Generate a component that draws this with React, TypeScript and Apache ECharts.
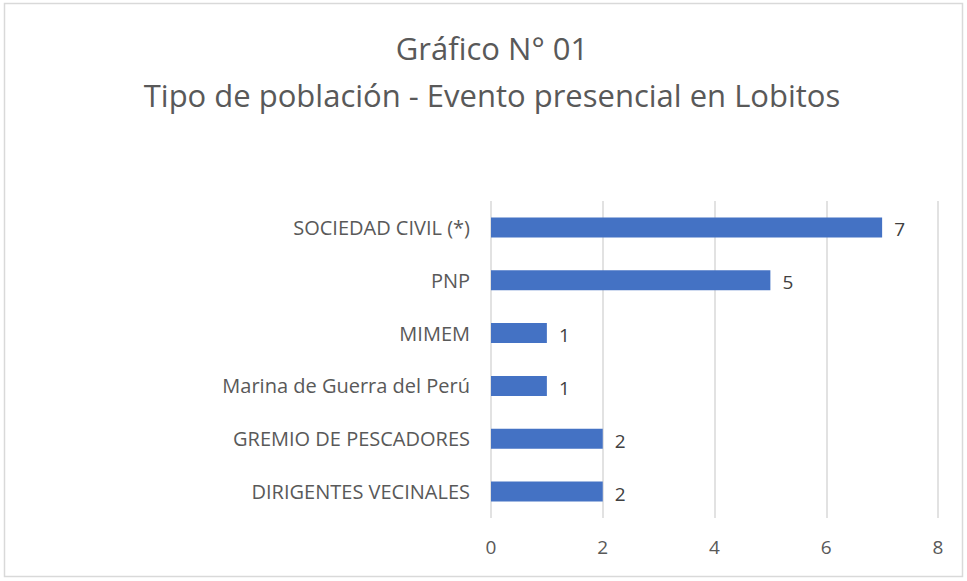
import React, { useEffect, useRef } from "react";
import * as echarts from "echarts";

const categories = [
  "SOCIEDAD CIVIL (*)",
  "PNP",
  "MIMEM",
  "Marina de Guerra del Perú",
  "GREMIO DE PESCADORES",
  "DIRIGENTES VECINALES",
];
const values = [7, 5, 1, 1, 2, 2];
const titleLines = ["Gráfico N° 01", "Tipo de población - Evento presencial en Lobitos"];

const FONT = "'Open Sans', 'Noto Sans', sans-serif";
const TXT = "#595959";

export default function App() {
  const ref = useRef<HTMLDivElement>(null);
  useEffect(() => {
    if (!ref.current) return;
    const chart = echarts.init(ref.current, null, { renderer: "svg" });
    chart.setOption({
      animation: false,
      backgroundColor: "#ffffff",
      textStyle: { fontFamily: FONT },
      title: {
        text: titleLines.join("\n"),
        left: 487,
        textAlign: "center",
        top: 19,
        textStyle: {
          fontFamily: FONT,
          fontSize: 31,
          fontWeight: "normal",
          color: TXT,
          lineHeight: 47,
        },
      },
      graphic: [
        {
          type: "rect",
          shape: { x: 4.5, y: 3.5, width: 958, height: 573 },
          style: { fill: "none", stroke: "#d9d9d9", lineWidth: 1.5 },
          z: -1,
        },
      ],
      grid: { left: 491, right: 29, top: 201, bottom: 63, containLabel: false },
      xAxis: {
        type: "value",
        min: 0,
        max: 8,
        interval: 2,
        axisLine: { show: false },
        axisTick: { show: false },
        axisLabel: { color: TXT, fontSize: 19, margin: 19, fontFamily: FONT },
        splitLine: { show: true, lineStyle: { color: "#d9d9d9", width: 1.5 } },
      },
      yAxis: {
        type: "category",
        data: categories,
        inverse: true,
        axisLine: { show: false },
        axisTick: { show: false },
        axisLabel: { color: TXT, fontSize: 20, margin: 21, fontFamily: FONT },
      },
      series: [
        {
          type: "bar",
          data: values,
          barCategoryGap: "62%",
          itemStyle: { color: "#4472C4" },
          label: {
            show: true,
            position: "right",
            distance: 12,
            color: "#404040",
            fontSize: 19,
            fontFamily: FONT,
            offset: [0, 2],
          },
        },
      ],
    });
    return () => chart.dispose();
  }, []);
  return (
    <div
      ref={ref}
      style={{ position: "fixed", left: 0, top: 0, width: 967, height: 581 }}
    />
  );
}
